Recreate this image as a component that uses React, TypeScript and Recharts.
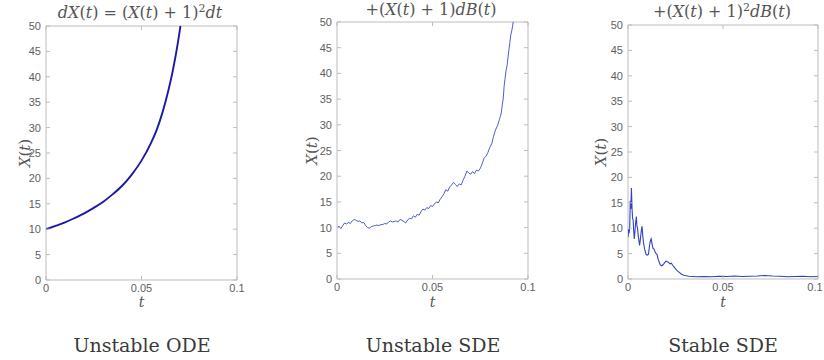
import React from 'react';
import { LineChart, Line, XAxis, YAxis, ReferenceArea } from 'recharts';

// ---------- data ----------
const X_TICKS = [0, 0.05, 0.1];
const X_TICK_LABELS = ['0', '0.05', '0.1'];
const Y_TICKS = [0, 5, 10, 15, 20, 25, 30, 35, 40, 45, 50];

const CAPTIONS = ['Unstable ODE', 'Unstable SDE', 'Stable SDE'];

const ODE_T = [0, 0.005, 0.01, 0.015, 0.02, 0.025, 0.03, 0.035, 0.04, 0.045, 0.05, 0.055, 0.058, 0.061, 0.064, 0.066, 0.068, 0.07, 0.0715];
const ODE_X = [10, 10.65, 11.35, 12.2, 13.1, 14.2, 15.4, 16.9, 18.6, 20.8, 23.5, 27.0, 29.6, 33.0, 37.2, 40.5, 44.4, 49.0, 53.0];

const USDE_T = [
  0, 0.001, 0.002, 0.003, 0.004, 0.005, 0.006, 0.007, 0.008, 0.009,
  0.010, 0.011, 0.012, 0.013, 0.014, 0.015, 0.016, 0.017, 0.018, 0.019,
  0.020, 0.021, 0.022, 0.023, 0.024, 0.025, 0.026, 0.027, 0.028, 0.029,
  0.030, 0.031, 0.032, 0.033, 0.034, 0.035, 0.036, 0.037, 0.038, 0.039,
  0.040, 0.041, 0.042, 0.043, 0.044, 0.045, 0.046, 0.047, 0.048, 0.049,
  0.050, 0.051, 0.052, 0.053, 0.054, 0.055, 0.056, 0.057, 0.058, 0.059,
  0.060, 0.061, 0.062, 0.063, 0.064, 0.065, 0.066, 0.067, 0.068, 0.069,
  0.070, 0.071, 0.072, 0.073, 0.074, 0.075, 0.076, 0.077, 0.078, 0.079,
  0.080, 0.081, 0.082, 0.083, 0.084, 0.085, 0.0855, 0.086, 0.0865, 0.087,
  0.0875, 0.088, 0.0885, 0.089, 0.0895, 0.090, 0.0905, 0.091, 0.0915, 0.092, 0.0925,
];
const USDE_X = [
  9.9, 10.3, 9.8, 10.4, 10.9, 10.7, 11.0, 10.8, 11.3, 11.6,
  11.4, 11.2, 11.3, 10.9, 11.0, 10.4, 10.0, 9.9, 10.2, 10.3,
  10.4, 10.5, 10.4, 10.6, 10.6, 10.8, 10.7, 11.1, 11.3, 11.1,
  11.2, 11.3, 11.1, 11.6, 11.4, 11.2, 10.9, 11.5, 11.8, 11.7,
  12.3, 12.0, 12.6, 12.4, 13.1, 13.6, 13.4, 13.9, 13.7, 14.3,
  14.1, 14.6, 15.0, 14.8, 15.5, 16.0, 16.6, 17.4, 17.1, 17.9,
  18.3, 18.8, 18.4, 18.0, 18.5, 18.3, 19.2, 20.0, 21.0, 20.6,
  20.4, 20.9, 20.5, 21.2, 21.0, 21.5, 22.4, 23.5, 23.9, 24.6,
  25.6, 26.3, 27.8, 29.0, 29.8, 31.0, 31.6, 32.3, 33.8, 35.0,
  37.5, 39.0, 40.6, 41.4, 43.0, 44.5, 46.0, 47.5, 48.3, 49.4, 50.6,
];

const SSDE_T = [
  0, 0.0003, 0.0006, 0.0009, 0.0012, 0.0015, 0.0018, 0.0021, 0.0024, 0.0027,
  0.003, 0.0033, 0.0036, 0.004, 0.0044, 0.0047, 0.005, 0.0054, 0.0058, 0.0061,
  0.0065, 0.007, 0.0074, 0.0078, 0.0082, 0.0086, 0.009, 0.0096, 0.0102, 0.0108,
  0.0113, 0.0118, 0.0122, 0.0127, 0.0132, 0.0137, 0.0143, 0.0148, 0.0153, 0.0158,
  0.0165, 0.017, 0.0178, 0.0185, 0.0192, 0.02, 0.0207, 0.0213, 0.022, 0.0228,
  0.0235, 0.0242, 0.025, 0.026, 0.027, 0.028, 0.029, 0.030, 0.032, 0.034,
  0.036, 0.04, 0.044, 0.048, 0.052, 0.056, 0.06, 0.064, 0.068, 0.072,
  0.076, 0.08, 0.084, 0.088, 0.092, 0.096, 0.1,
];
const SSDE_X = [
  8.2, 9.8, 9.0, 10.2, 15.4, 13.8, 17.9, 14.1, 12.0, 11.6,
  9.5, 7.9, 9.2, 11.0, 12.3, 10.4, 10.1, 8.5, 7.4, 6.6,
  7.8, 9.5, 10.4, 8.4, 7.0, 6.2, 5.5, 4.8, 4.7, 4.9,
  6.5, 7.6, 7.9, 6.8, 6.0, 5.9, 5.3, 5.0, 4.8, 4.0,
  3.2, 2.8, 2.6, 2.8, 3.2, 3.5, 3.4, 3.3, 3.0, 3.1,
  2.7, 2.4, 2.0, 1.6, 1.3, 1.0, 0.8, 0.7, 0.55, 0.5,
  0.45, 0.5, 0.45, 0.55, 0.5, 0.6, 0.5, 0.55, 0.6, 0.7,
  0.6, 0.55, 0.45, 0.5, 0.55, 0.45, 0.5,
];

// ---------- layout / style ----------
const W = 824;
const H = 360;
const FRAME = '#bdbdbd';
const TICK_TEXT = '#606060';
const SERIF = '"DejaVu Serif", "Liberation Serif", serif';
const SANS = '"Liberation Sans", Arial, sans-serif';

type Rect = { l: number; r: number; t: number; b: number };

const RECTS: Rect[] = [
  { l: 46, r: 237, t: 26, b: 280 },
  { l: 337, r: 528, t: 22, b: 279 },
  { l: 628, r: 818, t: 25, b: 279 },
];

function Panel({ data, rect, color, strokeWidth, curve }: { data: { t: number; x: number }[]; rect: Rect; color: string; strokeWidth: number; curve: 'monotone' | 'linear' }) {
  const YTick = (p: any) => {
    const y = p.y;
    return (
      <g>
        <line x1={rect.l} x2={rect.l + 4} y1={y} y2={y} stroke={FRAME} strokeWidth={1} />
        <line x1={rect.r - 4} x2={rect.r} y1={y} y2={y} stroke={FRAME} strokeWidth={1} />
        <text x={rect.l - 5} y={y} textAnchor="end" dominantBaseline="central" fontFamily={SANS} fontSize={11} fill={TICK_TEXT}>
          {p.payload.value}
        </text>
      </g>
    );
  };
  const XTick = (p: any) => {
    const x = p.x;
    const idx = X_TICKS.indexOf(p.payload.value);
    const label = idx >= 0 ? X_TICK_LABELS[idx] : String(p.payload.value);
    // keep the last label inside the page
    const tx = Math.min(x, W - 9);
    return (
      <g>
        <line x1={x} x2={x} y1={rect.b} y2={rect.b - 4} stroke={FRAME} strokeWidth={1} />
        <line x1={x} x2={x} y1={rect.t} y2={rect.t + 4} stroke={FRAME} strokeWidth={1} />
        <text x={tx} y={rect.b + 8} textAnchor="middle" dominantBaseline="central" fontFamily={SANS} fontSize={11} fill={TICK_TEXT}>
          {label}
        </text>
      </g>
    );
  };
  return (
    <div style={{ position: 'absolute', left: 0, top: 0 }}>
      <LineChart
        width={W}
        height={H}
        data={data}
        margin={{ top: rect.t, bottom: H - rect.b - 1, left: rect.l - 1, right: W - rect.r }}
      >
        <XAxis
          dataKey="t"
          type="number"
          domain={[0, 0.1]}
          ticks={X_TICKS}
          height={1}
          axisLine={false}
          tickLine={false}
          tick={XTick}
          interval={0}
          allowDataOverflow
        />
        <YAxis
          type="number"
          domain={[0, 50]}
          ticks={Y_TICKS}
          width={1}
          axisLine={false}
          tickLine={false}
          tick={YTick}
          interval={0}
          allowDataOverflow
        />
        <ReferenceArea x1={0} x2={0.1} y1={0} y2={50} fill="none" stroke={FRAME} strokeWidth={1} />
        <Line
          type={curve}
          dataKey="x"
          stroke={color}
          strokeWidth={strokeWidth}
          dot={false}
          isAnimationActive={false}
        />
      </LineChart>
    </div>
  );
}

const I = (s: string) => <tspan fontStyle="italic">{s}</tspan>;

export default function App() {
  const ode = ODE_T.map((t, i) => ({ t, x: ODE_X[i] }));
  const usde = USDE_T.map((t, i) => ({ t, x: USDE_X[i] }));
  const ssde = SSDE_T.map((t, i) => ({ t, x: SSDE_X[i] }));
  const titleProps = { fontFamily: SERIF, fontSize: 16, fill: '#555', textAnchor: 'middle' as const };
  const yLabX = [25, 312, 601];
  const capX = [142, 433, 723];
  return (
    <div style={{ position: 'absolute', left: 0, top: 0, width: W, height: H, background: '#fff', overflow: 'hidden' }}>
      <Panel data={ode} rect={RECTS[0]} color="#1a1aa6" strokeWidth={1.9} curve="monotone" />
      <Panel data={usde} rect={RECTS[1]} color="#3a4cc4" strokeWidth={0.9} curve="linear" />
      <Panel data={ssde} rect={RECTS[2]} color="#3142c2" strokeWidth={1.1} curve="linear" />
      <svg width={W} height={H} style={{ position: 'absolute', left: 0, top: 0, pointerEvents: 'none' }}>
        <text x={140} y={18} {...titleProps}>
          {I('dX')}({I('t')}) = ({I('X')}({I('t')}) + 1)<tspan dy={-6} fontSize={11}>2</tspan>
          <tspan dy={6} fontStyle="italic">dt</tspan>
        </text>
        <text x={431} y={15} {...titleProps}>
          +({I('X')}({I('t')}) + 1){I('dB')}({I('t')})
        </text>
        <text x={722} y={17} {...titleProps}>
          +({I('X')}({I('t')}) + 1)<tspan dy={-6} fontSize={11}>2</tspan>
          <tspan dy={6} fontStyle="italic">dB</tspan>({I('t')})
        </text>
        {RECTS.map((r, i) => (
          <g key={i}>
            <text
              x={yLabX[i]}
              y={(r.t + r.b) / 2}
              transform={`rotate(-90, ${yLabX[i]}, ${(r.t + r.b) / 2})`}
              textAnchor="middle"
              dominantBaseline="central"
              fontFamily={SERIF}
              fontSize={15}
              fill="#555"
            >
              {I('X')}({I('t')})
            </text>
            <text x={(r.l + r.r) / 2} y={302} textAnchor="middle" dominantBaseline="central" fontFamily={SERIF} fontStyle="italic" fontSize={14} fill="#555">
              t
            </text>
            <text x={capX[i]} y={352} textAnchor="middle" fontFamily={SERIF} fontSize={19} fill="#3a3a3a">
              {CAPTIONS[i]}
            </text>
          </g>
        ))}
      </svg>
    </div>
  );
}
